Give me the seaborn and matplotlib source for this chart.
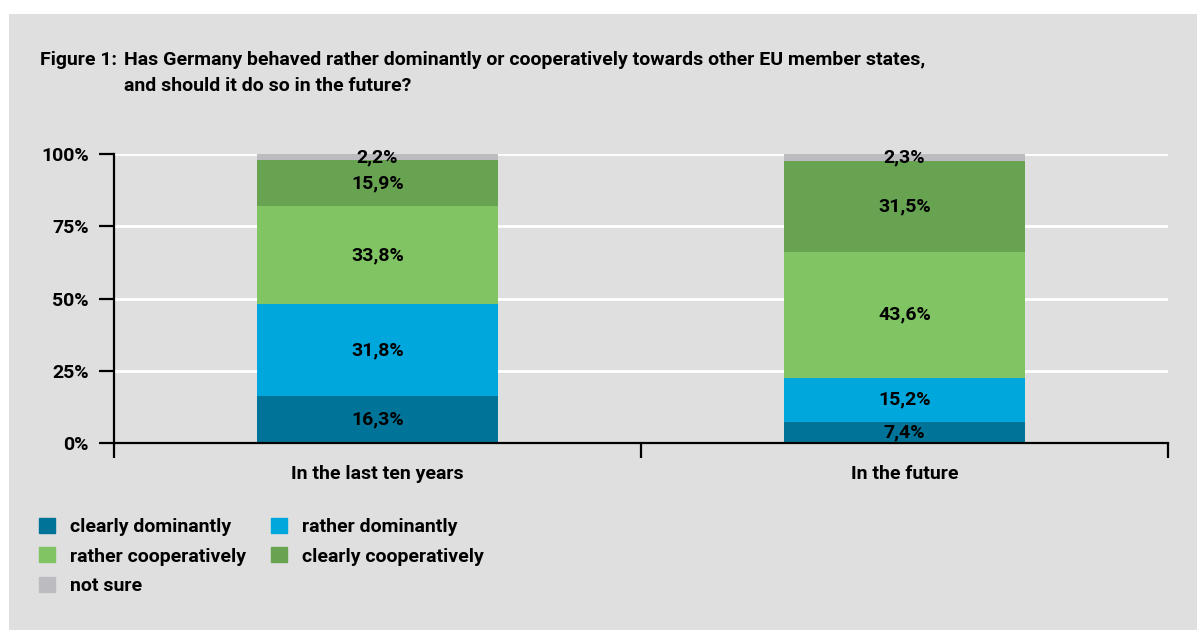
import matplotlib
matplotlib.use('Agg')
import matplotlib.pyplot as plt
import matplotlib.patches as mpatches
import seaborn as sns
import pandas as pd
import numpy as np

# data
periods = ["In the last ten years", "In the future"]
answers = ["clearly dominantly", "rather dominantly", "rather cooperatively",
           "clearly cooperatively", "not sure"]
last_ten_years = [16.3, 31.8, 33.8, 15.9, 2.2]
future = [7.4, 15.2, 43.6, 31.5, 2.3]
colors = ["#007498", "#00a7dc", "#80c463", "#68a352", "#bcbcc0"]
y_ticks = [0, 25, 50, 75, 100]

BG = "#dfdfdf"
FS = 14

sns.set_style("white")
plt.rcParams['font.family'] = ['Roboto', 'Liberation Sans', 'DejaVu Sans']
plt.rcParams['font.weight'] = 'bold'
for key in ["text.color", "xtick.color", "ytick.color", "axes.labelcolor"]:
    plt.rcParams[key] = "black"

df = pd.DataFrame({"period": periods * len(answers),
                   "answer": np.repeat(answers, len(periods)),
                   "value": [v for pair in zip(last_ten_years, future) for v in pair]})
df["cum"] = df.groupby("period")["value"].cumsum()

fig = plt.figure(figsize=(11.97, 6.30), dpi=100)
fig.patch.set_facecolor("white")
fig.patches.append(mpatches.Rectangle((9 / 1197, 0), 1 - 9 / 1197, 1 - 14 / 630,
                                      transform=fig.transFigure, facecolor=BG,
                                      edgecolor="none", zorder=-10))

ax = fig.add_axes([114 / 1197, 1 - 443 / 630, (1168 - 114) / 1197, (443 - 154) / 630])
ax.set_facecolor(BG)
ax.patch.set_alpha(0)

# stacked bars: draw cumulative totals from the top segment down
for ans, col in reversed(list(zip(answers, colors))):
    sub = df[df["answer"] == ans]
    sns.barplot(data=sub, x="period", y="cum", order=periods, color=col,
                width=0.457, saturation=1, ax=ax, zorder=3, linewidth=0)

# labels in the segments
for period in periods:
    sub = df[df["period"] == period]
    xi = periods.index(period)
    for _, row in sub.iterrows():
        ymid = row["cum"] - row["value"] / 2
        ax.text(xi, ymid, f"{row['value']:.1f}%".replace(".", ","), ha="center",
                va="center", fontsize=FS, fontweight="bold", zorder=5, clip_on=False)

ax.set_ylim(0, 100)
ax.set_xlim(-0.5, 1.5)
ax.set_yticks(y_ticks)
ax.set_yticklabels([f"{t}%" for t in y_ticks], fontsize=FS, fontweight="bold")
for t in y_ticks[1:]:
    ax.axhline(t, color="white", lw=2, zorder=1)

ax.set_xticks([-0.5, 0.5, 1.5])
ax.set_xticklabels(["", "", ""])
ax.set_xticks([0, 1], minor=True)
ax.set_xticklabels(periods, minor=True, fontsize=FS, fontweight="bold")
ax.tick_params(axis="x", which="major", bottom=True, direction="out", length=11,
               width=1.6, color="black")
ax.tick_params(axis="x", which="minor", bottom=True, length=0, pad=16)
ax.tick_params(axis="y", left=True, direction="out", length=11, width=1.6,
               color="black", pad=7)
ax.set_xlabel("")
ax.set_ylabel("")

for side in ["top", "right"]:
    ax.spines[side].set_visible(False)
for side in ["left", "bottom"]:
    ax.spines[side].set_color("black")
    ax.spines[side].set_linewidth(1.6)
    ax.spines[side].set_zorder(6)

fig.text(40 / 1197, 1 - 60 / 630, "Figure 1:", fontsize=14, fontweight="bold", va="center")
fig.text(124 / 1197, 1 - 60 / 630,
         "Has Germany behaved rather dominantly or cooperatively towards other EU member states,",
         fontsize=14, fontweight="bold", va="center")
fig.text(124 / 1197, 1 - 86 / 630, "and should it do so in the future?",
         fontsize=14, fontweight="bold", va="center")

order = [0, 2, 4, 1, 3]
handles = [mpatches.Patch(color=colors[i], label=answers[i]) for i in order]
leg = fig.legend(handles=handles, ncol=2, loc="upper left",
                 bbox_to_anchor=(39 / 1197, 1 - 518 / 630), frameon=False,
                 borderpad=0, borderaxespad=0,
                 prop={"size": FS, "weight": "bold"}, handlelength=0.8, handleheight=0.8,
                 handletextpad=0.8, labelspacing=0.58, columnspacing=1.3)

fig.savefig("out.png", dpi=100, facecolor=fig.get_facecolor())
